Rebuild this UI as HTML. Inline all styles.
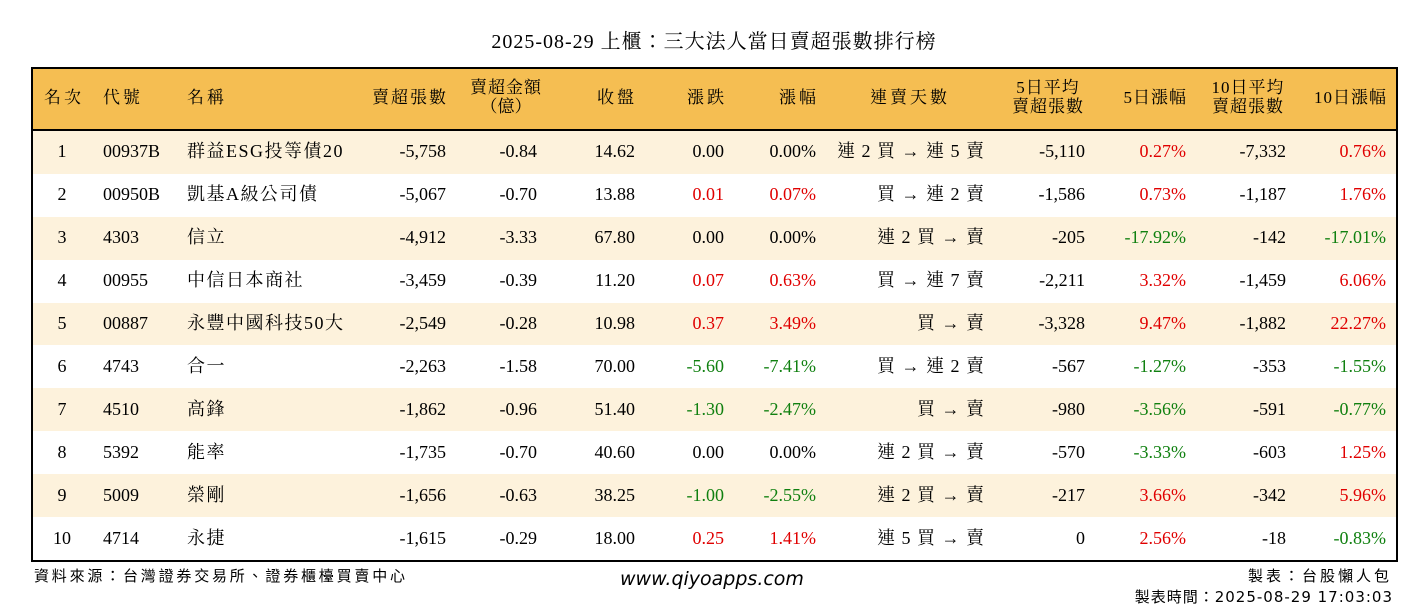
<!DOCTYPE html>
<html><head><meta charset="utf-8">
<style>
body{margin:0;width:1428px;height:612px;background:#fff;position:relative;overflow:hidden;font-family:"Liberation Serif","Noto Serif CJK TC","Noto Serif CJK SC",serif;color:#000}
.a{position:absolute;white-space:nowrap;line-height:1}
#tbl{position:absolute;left:31px;top:67px;width:1363px;height:491px;border:2px solid #000;overflow:hidden}
.row{position:absolute;left:0;width:1363px}
</style></head><body>
<div class="a" style="left:0;width:1428px;text-align:center;top:32px;font-size:20px;letter-spacing:1px">2025-08-29 上櫃：三大法人當日賣超張數排行榜</div>
<div id="tbl">
<div class="row" style="top:0;height:60px;background:#F5BE52;border-bottom:2px solid #000"></div>
</div>
<div id="cells"></div>
<div class="a" style="left:34px;top:569px;font-size:15px;font-family:'Liberation Sans','Noto Sans CJK TC',sans-serif;letter-spacing:2.8px">資料來源：台灣證券交易所、證券櫃檯買賣中心</div>
<div class="a" style="left:620px;top:570px;font-size:19px;font-style:italic;font-family:'DejaVu Sans',sans-serif">www.qiyoapps.com</div>
<div class="a" style="right:36px;top:569px;font-size:15px;font-family:'Liberation Sans','Noto Sans CJK TC',sans-serif;letter-spacing:3px">製表：台股懶人包</div>
<div class="a" style="right:35px;top:590px;font-size:15px;font-family:'DejaVu Sans','Noto Sans CJK TC',sans-serif;letter-spacing:1px">製表時間：2025-08-29 17:03:03</div>
<script>
const ranks=[1,2,3,4,5,6,7,8,9,10];
const codes=["00937B","00950B","4303","00955","00887","4743","4510","5392","5009","4714"];
const names=["群益ESG投等債20","凱基A級公司債","信立","中信日本商社","永豐中國科技50大","合一","高鋒","能率","榮剛","永捷"];
const sellVol=[-5758,-5067,-4912,-3459,-2549,-2263,-1862,-1735,-1656,-1615];
const sellAmt=[-0.84,-0.70,-3.33,-0.39,-0.28,-1.58,-0.96,-0.70,-0.63,-0.29];
const closes=[14.62,13.88,67.80,11.20,10.98,70.00,51.40,40.60,38.25,18.00];
const chg=[0.00,0.01,0.00,0.07,0.37,-5.60,-1.30,0.00,-1.00,0.25];
const pct=[0.00,0.07,0.00,0.63,3.49,-7.41,-2.47,0.00,-2.55,1.41];
const days=["連 2 買 → 連 5 賣","買 → 連 2 賣","連 2 買 → 賣","買 → 連 7 賣","買 → 賣","買 → 連 2 賣","買 → 賣","連 2 買 → 賣","連 2 買 → 賣","連 5 買 → 賣"];
const avg5=[-5110,-1586,-205,-2211,-3328,-567,-980,-570,-217,0];
const pct5=[0.27,0.73,-17.92,3.32,9.47,-1.27,-3.56,-3.33,3.66,2.56];
const avg10=[-7332,-1187,-142,-1459,-1882,-353,-591,-603,-342,-18];
const pct10=[0.76,1.76,-17.01,6.06,22.27,-1.55,-0.77,1.25,5.96,-0.83];

const root=document.getElementById('cells');
const tbl=document.getElementById('tbl');
const fmtInt=v=>v.toLocaleString('en-US');
const col=v=>v>0?'#E00000':(v<0?'#108010':'#000');
function txt(t,x,y,align,color,name,fs,ls){
  const d=document.createElement('div');
  d.className='a';
  
  
  d.textContent=t;
  d.style.fontSize=(fs||18)+'px';
  d.style.top=(y-(fs||18)/2-1)+'px';
  d.style.color=color||'#000';
  if(ls){d.style.letterSpacing=ls+'px';}
  if(align==='left'){d.style.left=x+'px';}
  else if(align==='right'){d.style.right=(1428-x-(ls||0))+'px';}
  else{d.style.left=(x-200)+'px';d.style.width='400px';d.style.textAlign='center';}
  root.appendChild(d);
}
const H=98;
txt("名次",44,H,'left',null,'header-rank',17,3);
txt("代號",103,H,'left',null,'header-code',17,3);
txt("名稱",187,H,'left',null,'header-name',17,3);
txt("賣超張數",446,H,'right',null,'header-sell-volume',17,2);
txt("賣超金額",506,H-10,'center',null,'header-sell-amount',17,1);
txt("（億）",506,H+9,'center',null,'header-sell-amount-unit',17);
txt("收盤",634,H,'right',null,'header-close',17,3);
txt("漲跌",724,H,'right',null,'header-change',17,3);
txt("漲幅",816,H,'right',null,'header-change-pct',17,3);
txt("連賣天數",910,H,'center',null,'header-streak',17,3);
txt("5日平均",1048,H-10,'center',null,'header-avg5',17,1);
txt("賣超張數",1048,H+9,'center',null,'header-avg5-sub',17,1);
txt("5日漲幅",1186,H,'right',null,'header-pct5',17,1);
txt("10日平均",1248,H-10,'center',null,'header-avg10',17,1);
txt("賣超張數",1248,H+9,'center',null,'header-avg10-sub',17,1);
txt("10日漲幅",1386,H,'right',null,'header-pct10',17,1);
const rowH=42.9;
for(let i=0;i<ranks.length;i++){
  const top=62+rowH*i;
  const r=document.createElement('div');
  r.className='row';
  
  
  r.style.top=top+'px';r.style.height=rowH+'px';
  r.style.background=i%2===0?'#FDF2DC':'#fff';
  tbl.appendChild(r);
  const y=131+rowH*i+rowH/2;
  txt(String(ranks[i]),62,y,'center',null,'rank-cell');
  txt(codes[i],103,y,'left',null,'code-cell');
  txt(names[i],187,y,'left',null,'name-cell',18,1.5);
  txt(fmtInt(sellVol[i]),446,y,'right',null,'sell-volume-cell');
  txt(sellAmt[i].toFixed(2),537,y,'right',null,'sell-amount-cell');
  txt(closes[i].toFixed(2),635,y,'right',null,'close-cell');
  txt(chg[i].toFixed(2),724,y,'right',col(chg[i]),'change-cell');
  txt(pct[i].toFixed(2)+'%',816,y,'right',col(pct[i]),'change-pct-cell');
  txt(days[i],984,y,'right',null,'streak-cell',18,1);
  txt(fmtInt(avg5[i]),1085,y,'right',null,'avg5-cell');
  txt(pct5[i].toFixed(2)+'%',1186,y,'right',col(pct5[i]),'pct5-cell');
  txt(fmtInt(avg10[i]),1286,y,'right',null,'avg10-cell');
  txt(pct10[i].toFixed(2)+'%',1386,y,'right',col(pct10[i]),'pct10-cell');
}
</script>
</body></html>
